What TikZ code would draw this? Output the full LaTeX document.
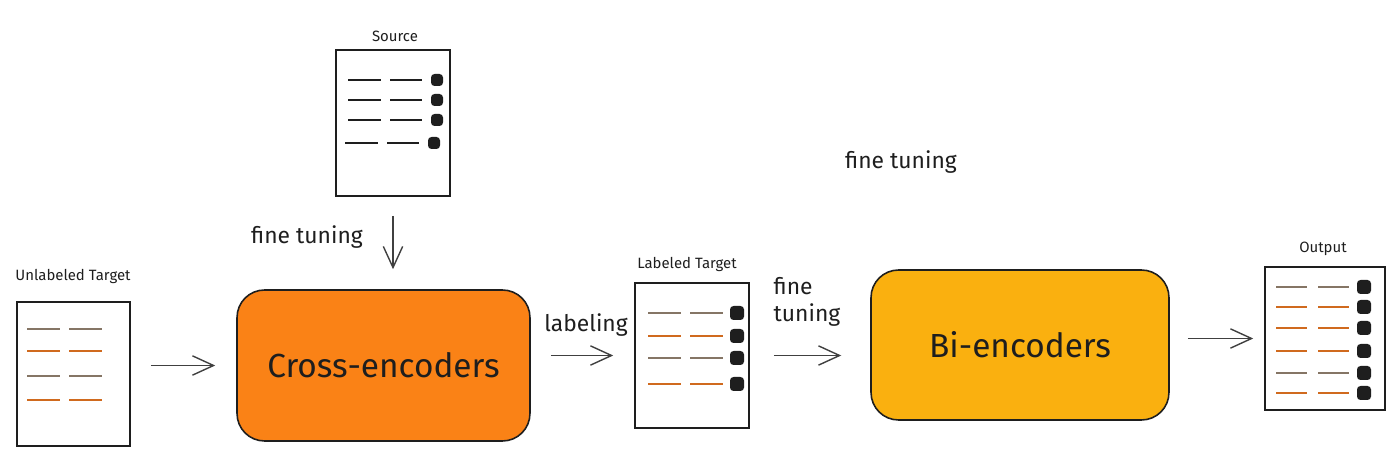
\documentclass[tikz,border=0pt]{standalone}
\usepackage{fontspec}
\setmainfont{Fira Sans}
\usepackage{xcolor}
\usetikzlibrary{arrows.meta}

\definecolor{inkdark}{HTML}{1E1E1E}
\definecolor{crossorange}{HTML}{FA8216}
\definecolor{biyellow}{HTML}{FAB00F}
\definecolor{rowgray}{HTML}{857565}
\definecolor{roworange}{HTML}{D06A1E}

\tikzset{
  doc/.style={draw=inkdark,line width=0.9pt,fill=white,inner sep=0pt},
  model/.style={draw=inkdark,line width=0.9pt,rounded corners=0.55cm,inner sep=0pt,
    text=inkdark,font=\fontsize{19}{22}\selectfont},
  flow/.style={-{Straight Barb[length=12pt,width=11pt]},draw=inkdark!85,line width=0.8pt},
  doclabel/.style={font=\fontsize{8.5}{10}\selectfont,text=inkdark},
  note/.style={font=\fontsize{13}{15}\selectfont,text=inkdark,align=left},
  row/.style={line width=1.2pt},
  tick/.style={fill=inkdark,rounded corners=2pt}
}

\begin{document}
\begin{tikzpicture}[x=0.02cm,y=-0.02cm]
  \useasboundingbox (0,0) rectangle (1400,452);

  % documents
  \node[doc,minimum width=2.28cm,minimum height=2.92cm] (src) at (393,123) {};
  \node[doc,minimum width=2.26cm,minimum height=2.88cm] (ut) at (73.5,374) {};
  \node[doc,minimum width=2.28cm,minimum height=2.90cm] (lab) at (692,355.5) {};
  \node[doc,minimum width=2.40cm,minimum height=2.86cm] (out) at (1325,338.5) {};
  \node[doclabel] (srclabel) at (395,36) {Source};
  \node[doclabel] (utlabel) at (73,276) {Unlabeled Target};
  \node[doclabel] (lablabel) at (687,264) {Labeled Target};
  \node[doclabel] (outlabel) at (1323,249) {Output};

  % rows of the documents
  \foreach \y/\dx in {80/0,100/0,120/0,143/-3} {
    \draw[row,inkdark] (348+\dx,\y) -- (381+\dx,\y) (390+\dx,\y) -- (422+\dx,\y);
    \fill[tick] (431+\dx,\y-6) rectangle (443+\dx,\y+6);
  }
  \foreach \y/\c in {329/rowgray,351/roworange,376/rowgray,400/roworange}
    \draw[row,\c] (27,\y) -- (60,\y) (69,\y) -- (102,\y);
  \foreach \y/\c in {313/rowgray,336/roworange,358/rowgray,384/roworange} {
    \draw[row,\c] (648,\y) -- (681,\y) (690,\y) -- (723,\y);
    \fill[tick] (730,\y-7) rectangle (744,\y+7);
  }
  \foreach \y/\c in {287/rowgray,307/roworange,328/roworange,351/roworange,373/rowgray,393/roworange} {
    \draw[row,\c] (1276,\y) -- (1307,\y) (1318,\y) -- (1349,\y);
    \fill[tick] (1357,\y-7) rectangle (1371,\y+7);
  }

  % models
  \node[model,fill=crossorange,minimum width=5.86cm,minimum height=3.02cm] (cross) at (383.5,365.5) {Cross-encoders};
  \node[model,fill=biyellow,minimum width=5.96cm,minimum height=3.00cm] (bi) at (1020,345) {Bi-encoders};

  % connectors
  \draw[flow,shorten <=0.38cm,shorten >=0.4cm] (src.south) -- (src.south |- cross.north);
  \draw[flow,shorten <=0.4cm,shorten >=0.42cm] (ut.east |- cross.west) -- (cross.west);
  \draw[flow,shorten <=0.4cm,shorten >=0.42cm] (cross.east |- lab.west) -- (lab.west);
  \draw[flow,shorten <=0.48cm,shorten >=0.58cm] (lab.east) -- (lab.east -| bi.west);
  \draw[flow,shorten <=0.36cm,shorten >=0.22cm] (bi.east |- out.west) -- (out.west);

  % notes
  \node[note] (tunesrc) at (307,237) {fine tuning};
  \node[note] (labeling) at (586,325) {labeling};
  \node[note] (tunelab) at (807,302) {fine\\tuning};
  \node[note] (tunetop) at (901,162) {fine tuning};
\end{tikzpicture}
\end{document}
